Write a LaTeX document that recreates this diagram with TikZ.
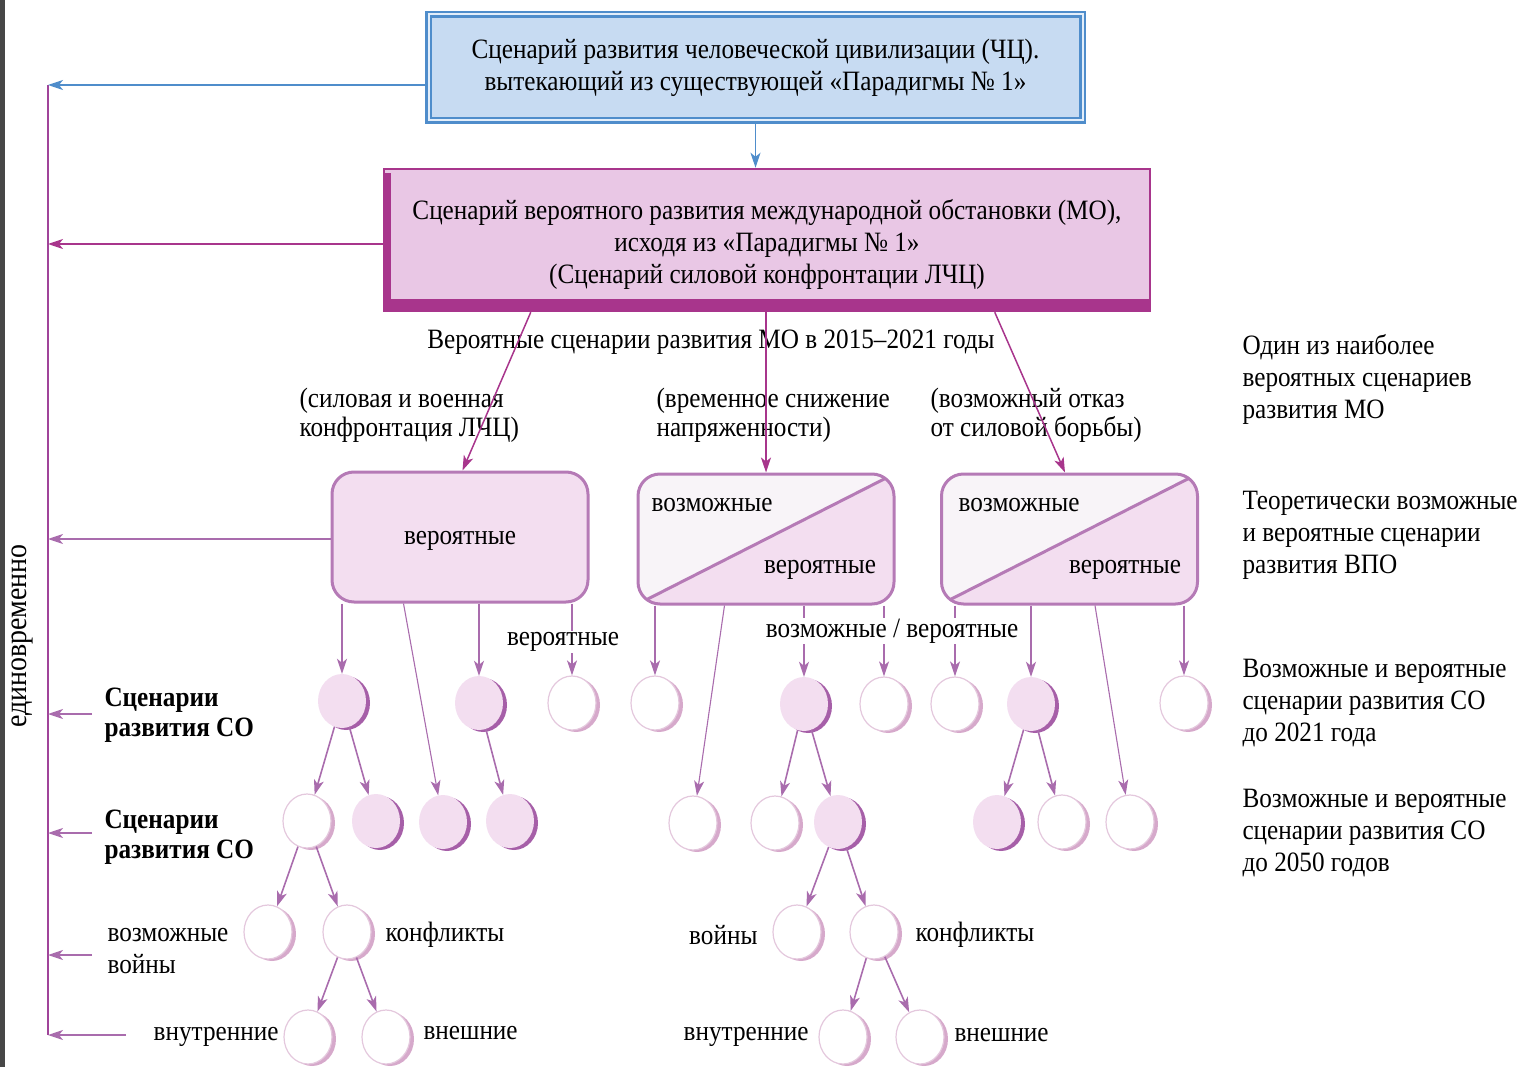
\documentclass[tikz,border=0pt]{standalone}
\usepackage{fontspec}
\setmainfont{Liberation Serif}[FakeStretch=0.9]
\usetikzlibrary{arrows.meta,shapes.geometric,shadows}

\definecolor{blueline}{HTML}{4F8DCB}
\definecolor{bluefill}{HTML}{C7DBF2}
\definecolor{bluegap}{HTML}{E3EEFA}
\definecolor{mag}{HTML}{A8358C}
\definecolor{magfill}{HTML}{E9C7E5}
\definecolor{vline}{HTML}{A0449A}
\definecolor{lilac}{HTML}{A96CAD}
\definecolor{boxfill}{HTML}{F3DEF0}
\definecolor{boxline}{HTML}{B57AB6}
\definecolor{paper}{HTML}{F8F4F8}
\definecolor{ringline}{HTML}{E4C8DD}
\definecolor{ringshade}{HTML}{D6A9CB}
\definecolor{ballshade}{HTML}{A65FA8}

\begin{document}
\begin{tikzpicture}[x=1pt,y=-1pt,>={Stealth[length=15pt,width=10pt,inset=4pt]},
    every node/.style={font=\fontsize{28}{32}\selectfont},
    civbox/.style={draw=blueline,line width=2.6pt,double=bluegap,double distance=2pt,fill=bluefill,
        minimum width=654pt,minimum height=106pt,align=center},
    mobox/.style={draw=mag,line width=2.5pt,fill=magfill,minimum width=766pt,minimum height=142pt,align=center,
        path picture={
        \fill[mag] (path picture bounding box.south west) rectangle ([yshift=12pt]path picture bounding box.south east);
        \fill[mag] (path picture bounding box.south west) rectangle ([xshift=7pt,yshift=-4pt]path picture bounding box.north west);}},
    vbox/.style={draw=boxline,line width=3pt,fill=boxfill,rounded corners=22pt,minimum width=256pt,minimum height=130pt},
    splitbox/.style={vbox,fill=paper,path picture={
        \fill[boxfill,sharp corners] (path picture bounding box.south west) -- (path picture bounding box.north east)
            -- (path picture bounding box.south east) -- cycle;
        \draw[boxline,line width=3pt,sharp corners] (path picture bounding box.south west) -- (path picture bounding box.north east);}},
    bub/.style={ellipse,inner sep=0pt,minimum width=48pt,minimum height=54pt},
    ball/.style={bub,fill=boxfill,drop shadow={shadow xshift=4pt,shadow yshift=-2pt,fill=ballshade,opacity=1}},
    ring/.style={bub,fill=white,draw=ringline,line width=1.2pt,
        drop shadow={shadow xshift=4pt,shadow yshift=-2pt,fill=ringshade,opacity=1}},
    note/.style={anchor=west,align=left},
    link/.style={->,lilac,line width=1.6pt},
    thin/.style={->,lilac,line width=1.1pt},
    moline/.style={->,mag,line width=1.5pt}]
\useasboundingbox (0,0) rectangle (1526,1067);
\fill[black!72] (0,0) rectangle (4.5,1067);

% верхние блоки
\node[civbox] (civ) at (755.5,67.5) {Сценарий развития человеческой цивилизации (ЧЦ).\\вытекающий из существующей «Парадигмы № 1»};
\node[mobox] (mo) at (767,240) {\rule{0pt}{28pt}Сценарий вероятного развития международной обстановки (МО),\\исходя из «Парадигмы № 1»\\(Сценарий силовой конфронтации ЛЧЦ)};
\draw[->,blueline,line width=1.5pt] (civ.south) -- (civ.south |- mo.north);

\node (prob) at (711,342) {Вероятные сценарии развития МО в 2015–2021 годы};
\node[note,font=\fontsize{28}{29}\selectfont] (sil) at (296,415) {(силовая и военная\\конфронтация ЛЧЦ)};
\node[note,font=\fontsize{28}{29}\selectfont] (vrem) at (653,415) {(временное снижение\\напряженности)};
\node[note,font=\fontsize{28}{29}\selectfont] (otk) at (927,415) {(возможный отказ\\от силовой борьбы)};

% пояснения справа
\node[note] (r1) at (1239,379) {Один из наиболее\\вероятных сценариев\\развития МО};
\node[note] (r2) at (1239,535) {Теоретически возможные\\и вероятные сценарии\\развития ВПО};
\node[note] (r3) at (1239,703) {Возможные и вероятные\\сценарии развития СО\\до 2021 года};
\node[note] (r4) at (1239,833) {Возможные и вероятные\\сценарии развития СО\\до 2050 годов};

% сценарии ВПО
\node[vbox] (b1) at (460,537) {\raisebox{-7pt}[0pt][0pt]{вероятные}};
\node[splitbox] (b2) at (766,539) {};
\node[splitbox] (b3) at (1069.5,539) {};
\node (b2a) at (712,505) {возможные};
\node (b2b) at (820,570) {вероятные};
\node (b3a) at (1019,505) {возможные};
\node (b3b) at (1125,570) {вероятные};

\draw[moline] ([xshift=148pt]mo.south west) -- ([xshift=132pt]b1.north west);
\draw[moline] (mo.south -| b2.north) -- (b2.north);
\draw[moline] ([xshift=612pt]mo.south west) -- ([xshift=125pt]b3.north west);

% сценарии СО
\node[ball] (c11) at (342,701) {};
\node[ball] (c12) at (479,703) {};
\node[ring] (c13) at (572,703) {};
\node[ring] (c14) at (655,703) {};
\node[ball] (c15) at (804,704) {};
\node[ring] (c16) at (884,704) {};
\node[ring] (c17) at (955,704) {};
\node[ball] (c18) at (1031,704) {};
\node[ring] (c19) at (1184,703) {};

\node[ring] (c21) at (307,821) {};
\node[ball] (c22) at (376,821) {};
\node[ball] (c23) at (443,822) {};
\node[ball] (c24) at (510,821) {};
\node[ring] (c25) at (693,823) {};
\node[ring] (c26) at (775,823) {};
\node[ball] (c27) at (838,822) {};
\node[ball] (c28) at (997,822) {};
\node[ring] (c29) at (1062,822) {};
\node[ring] (c2a) at (1130,822) {};

\node[ring] (c31) at (268,932) {};
\node[ring] (c32) at (347,932) {};
\node[ring] (c33) at (797,932) {};
\node[ring] (c34) at (874,932) {};

\node[ring] (c41) at (308,1037) {};
\node[ring] (c42) at (386,1037) {};
\node[ring] (c43) at (843,1037) {};
\node[ring] (c44) at (920,1037) {};

\draw[link] (b1.south -| c11) -- (c11);
\draw[thin] ([xshift=73pt]b1.south west) -- (c23);
\draw[link] (b1.south -| c12) -- (c12);
\draw[link] (b1.south -| c13) -- (c13);
\draw[link] (b2.south -| c14) -- (c14);
\draw[thin] ([xshift=88pt]b2.south west) -- (c25);
\draw[link] (b2.south -| c15) -- (c15);
\draw[link] (b2.south -| c16) -- (c16);
\draw[link] (b3.south -| c17) -- (c17);
\draw[link] (b3.south -| c18) -- (c18);
\draw[thin] ([xshift=155pt]b3.south west) -- (c2a);
\draw[link] (b3.south -| c19) -- (c19);

\draw[link] (c11) -- (c21);
\draw[link] (c11) -- (c22);
\draw[link] (c12) -- (c24);
\draw[link] (c15) -- (c26);
\draw[link] (c15) -- (c27);
\draw[link] (c18) -- (c28);
\draw[link] (c18) -- (c29);
\draw[link] (c21) -- (c31);
\draw[link] (c21) -- (c32);
\draw[link] (c27) -- (c33);
\draw[link] (c27) -- (c34);
\draw[link] (c32) -- (c41);
\draw[link] (c32) -- (c42);
\draw[link] (c34) -- (c43);
\draw[link] (c34) -- (c44);

\node[fill=white,inner sep=1pt] (lblv) at (563,642) {вероятные};
\node[fill=white,inner sep=1pt] (lblvv) at (892,631) {возможные / вероятные};

% подписи уровней
\node[note,font=\fontsize{28}{30}\selectfont\bfseries] (sco1) at (101,715) {Сценарии\\развития СО};
\node[note,font=\fontsize{28}{30}\selectfont\bfseries] (sco2) at (101,837) {Сценарии\\развития СО};
\node[note] (vv) at (104,951) {возможные\\войны};
\node[anchor=west] (kf1) at (382,935) {конфликты};
\node[anchor=east] (vn1) at (282,1037) {внутренние};
\node[anchor=west] (vs1) at (420,1033) {внешние};
\node[anchor=east] (vo2) at (761,935) {войны};
\node[anchor=west] (kf2) at (912,935) {конфликты};
\node[anchor=east] (vn2) at (812,1037) {внутренние};
\node[anchor=west] (vs2) at (951,1035) {внешние};

% единовременно
\coordinate (t1) at (48,85);
\coordinate (t2) at (48,244);
\coordinate (t3) at (48,539);
\coordinate (t4) at (48,714);
\coordinate (t5) at (48,833);
\coordinate (t6) at (48,955);
\coordinate (t7) at (48,1035);
\coordinate (s4) at (92,714);
\coordinate (s5) at (92,833);
\coordinate (s6) at (92,955);
\coordinate (s7) at (126,1035);
\draw[vline,line width=1.5pt] (t1) -- (t7);
\draw[->,blueline,line width=1.5pt] (civ.west |- t1) -- (t1);
\draw[moline] (mo.west |- t2) -- (t2);
\draw[link] (b1.west |- t3) -- (t3);
\draw[link] (s4) -- (t4);
\draw[link] (s5) -- (t5);
\draw[link] (s6) -- (t6);
\draw[link] (s7) -- (t7);
\node[rotate=90,font=\fontsize{31}{32}\selectfont] (once) at (22,636) {единовременно};

\end{tikzpicture}
\end{document}
